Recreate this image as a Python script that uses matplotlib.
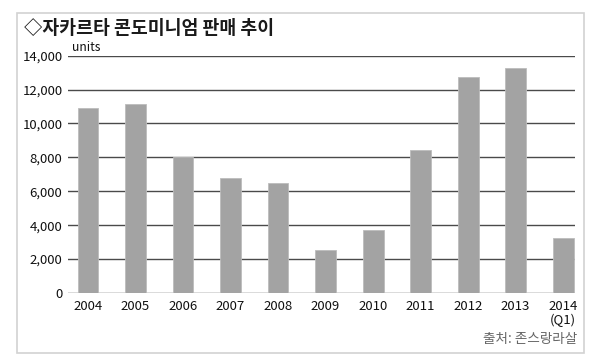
import matplotlib
matplotlib.use("Agg")
import matplotlib.pyplot as plt
from matplotlib.patches import Rectangle

plt.rcParams['font.family'] = ['Noto Sans CJK KR', 'DejaVu Sans']

categories = ['2004', '2005', '2006', '2007', '2008', '2009', '2010', '2011', '2012', '2013', '2014\n(Q1)']
sales = [10900, 11150, 8000, 6780, 6500, 2540, 3740, 8460, 12760, 13290, 3270]
yticks = [0, 2000, 4000, 6000, 8000, 10000, 12000, 14000]
ytick_labels = ['0', '2,000', '4,000', '6,000', '8,000', '10,000', '12,000', '14,000']
title = '◇자카르타 콘도미니엄 판매 추이'
unit_label = 'units'
source = '출처: 존스랑라살'

W, H = 600, 362
fig = plt.figure(figsize=(6, 3.62), dpi=100)
fig.patch.set_facecolor('white')

# frame
fig.patches.append(Rectangle((17 / W, 1 - 353 / H), (584 - 17) / W, (353 - 13) / H,
                             transform=fig.transFigure, fill=False,
                             edgecolor='#d2d2d2', linewidth=1.2))

ax = fig.add_axes([68 / W, 1 - 293 / H, (575 - 68) / W, (293 - 55.7) / H])
x = list(range(len(categories)))
ax.bar(x, sales, width=0.44, color='#a3a3a3', edgecolor='#bcbcbc', linewidth=0.6, zorder=3)

ax.set_xlim(-0.42, 10.25)
ax.set_ylim(0, 14000)
ax.set_yticks(yticks)
ax.set_yticklabels(ytick_labels)
ax.set_xticks(x)
ax.set_xticklabels(categories, linespacing=1.1)
ax.tick_params(axis='both', length=0, labelsize=9.5, colors='#111111')
ax.tick_params(axis='y', pad=4)
ax.tick_params(axis='x', pad=5)
ax.yaxis.grid(True, color='#4a4a4a', linewidth=1.0, zorder=1)
ax.set_axisbelow(True)
for s in ax.spines.values():
    s.set_visible(False)

fig.text(24 / W, 1 - 29 / H, title, fontsize=13.2, fontweight='bold',
         ha='left', va='center', color='#1a1a1a')
fig.text(72 / W, 1 - 54 / H, unit_label, fontsize=8.8, ha='left', va='bottom', color='#111111')
fig.text(577 / W, 1 - 339 / H, source, fontsize=9.8, ha='right', va='center', color='#666666')

fig.savefig('out.png', dpi=100)
